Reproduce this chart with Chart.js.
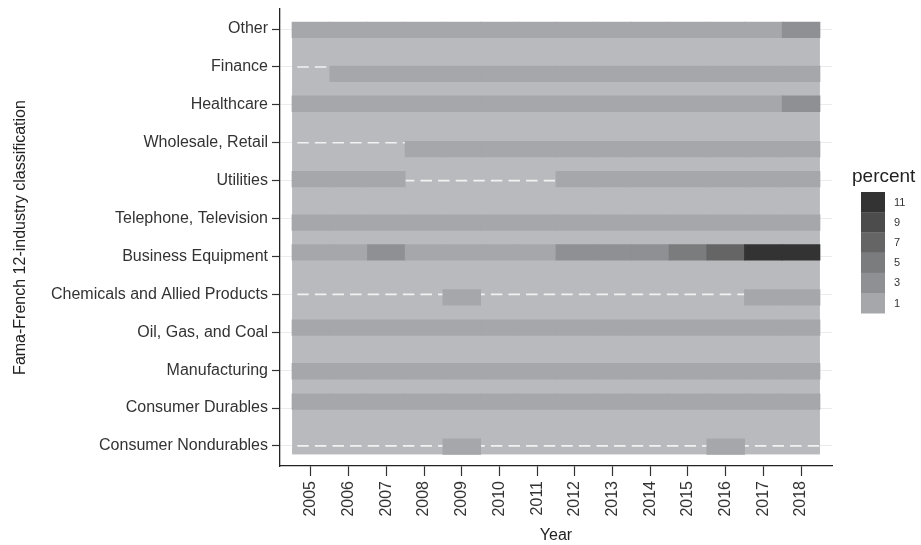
<!DOCTYPE html>
<html>
<head>
<meta charset="utf-8">
<script src="https://cdn.jsdelivr.net/npm/chart.js@4.4.1/dist/chart.umd.min.js"></script>
<style>
  html, body { margin: 0; padding: 0; background: #ffffff; }
  #wrap { width: 921px; height: 545px; }
</style>
</head>
<body>
<div id="wrap"><canvas id="chart" width="921" height="545"></canvas></div>
<script>
// Years on the horizontal axis
const years = [2005, 2006, 2007, 2008, 2009, 2010, 2011, 2012, 2013, 2014, 2015, 2016, 2017, 2018];

// Fama-French 12 industries, listed from the bottom row to the top row
const industries = [
  'Consumer Nondurables', 'Consumer Durables', 'Manufacturing', 'Oil, Gas, and Coal',
  'Chemicals and Allied Products', 'Business Equipment', 'Telephone, Television',
  'Utilities', 'Wholesale, Retail', 'Healthcare', 'Finance', 'Other'
];

// Percent per year for each industry (null = no observation that year)
const consumerNondurables = [null, null, null, null, 1, null, null, null, null, null, null, 1, null, null];
const consumerDurables    = [1, 1, 1, 1, 1, 1, 1, 1, 1, 1, 1, 1, 1, 1];
const manufacturing       = [1, 1, 1, 1, 1, 1, 1, 1, 1, 1, 1, 1, 1, 1];
const oilGasCoal          = [1, 1, 1, 1, 1, 1, 1, 1, 1, 1, 1, 1, 1, 1];
const chemicals           = [null, null, null, null, 1, null, null, null, null, null, null, null, 1, 1];
const businessEquipment   = [1, 1, 3, 1, 1, 1, 1, 3, 3, 3, 5, 7, 11, 11];
const telephoneTelevision = [1, 1, 1, 1, 1, 1, 1, 1, 1, 1, 1, 1, 1, 1];
const utilities           = [1, 1, 1, null, null, null, null, 1, 1, 1, 1, 1, 1, 1];
const wholesaleRetail     = [null, null, null, 1, 1, 1, 1, 1, 1, 1, 1, 1, 1, 1];
const healthcare          = [1, 1, 1, 1, 1, 1, 1, 1, 1, 1, 1, 1, 1, 3];
const finance             = [null, 1, 1, 1, 1, 1, 1, 1, 1, 1, 1, 1, 1, 1];
const other               = [1, 1, 1, 1, 1, 1, 1, 1, 1, 1, 1, 1, 1, 3];

// Legend keys of the percent colour scale
const legendValues = [1, 3, 5, 7, 9, 11];

const rows = [
  consumerNondurables, consumerDurables, manufacturing, oilGasCoal, chemicals,
  businessEquipment, telephoneTelevision, utilities, wholesaleRetail, healthcare,
  finance, other
];

// ---- styling ----
const FONT = "'Liberation Sans', Arial, Helvetica, sans-serif";
const TEXT = '#333333';
const PANEL = '#b9babd';
const legendColors = ['#a6a7aa', '#8f9093', '#7b7c7e', '#656566', '#4c4c4c', '#333333'];
const BAR_PX = 15.5;
// vertical nudge of each row's bar relative to its tick (row units, bottom to top)
const rowNudge = [-0.02, 0.17, -0.03, 0.12, -0.08, 0.11, -0.11, 0.04, -0.17, 0.03, -0.18, -0.02];

function hexToRgb(h) {
  const n = parseInt(h.slice(1), 16);
  return [(n >> 16) & 255, (n >> 8) & 255, n & 255];
}
function colorFor(v) {
  if (v <= legendValues[0]) return legendColors[0];
  const last = legendValues.length - 1;
  if (v >= legendValues[last]) return legendColors[last];
  for (let k = 0; k < last; k++) {
    const a = legendValues[k], b = legendValues[k + 1];
    if (v >= a && v <= b) {
      const t = (v - a) / (b - a);
      const c0 = hexToRgb(legendColors[k]), c1 = hexToRgb(legendColors[k + 1]);
      const c = c0.map((x, i) => Math.round(x + (c1[i] - x) * t));
      return `rgb(${c[0]},${c[1]},${c[2]})`;
    }
  }
  return legendColors[0];
}

const datasets = rows.map((vals, r) => ({
  label: industries[r],
  data: vals
    .map((v, i) => (v == null ? null : { x: [i - 0.5, i + 0.5], y: r + rowNudge[r], v }))
    .filter(d => d !== null),
  backgroundColor: ctx => colorFor(ctx.raw ? ctx.raw.v : 1),
  borderWidth: 0,
  barThickness: BAR_PX,
  inflateAmount: 0.4,
  grouped: false
}));

// grey panel behind the tiles plus the white dashed guide of every row
const panelPlugin = {
  id: 'panel',
  beforeDatasetsDraw(chart) {
    const { ctx, scales: { x, y } } = chart;
    const left = x.getPixelForValue(-0.5);
    const right = x.getPixelForValue(years.length - 0.5);
    let top = Infinity, bottom = -Infinity;
    rows.forEach((_, r) => {
      const c = y.getPixelForValue(r + rowNudge[r]);
      top = Math.min(top, c - BAR_PX / 2);
      bottom = Math.max(bottom, c + BAR_PX / 2);
    });
    ctx.save();
    ctx.fillStyle = PANEL;
    ctx.fillRect(left, top, right - left, bottom - top);
    ctx.strokeStyle = '#f2f2f2';
    ctx.lineWidth = 1.7;
    ctx.setLineDash([11.5, 6.1]);
    ctx.lineDashOffset = 12.4;
    rows.forEach((_, r) => {
      const yy = y.getPixelForValue(r);
      ctx.beginPath();
      ctx.moveTo(left, yy);
      ctx.lineTo(right, yy);
      ctx.stroke();
    });
    ctx.restore();
  }
};

// colour legend on the right
const legendPlugin = {
  id: 'percentLegend',
  afterDraw(chart) {
    const ctx = chart.ctx;
    ctx.save();
    ctx.fillStyle = '#222222';
    ctx.font = `19px ${FONT}`;
    ctx.textAlign = 'left';
    ctx.textBaseline = 'middle';
    ctx.fillText('percent', 852, 177);
    const kx = 861, kw = 24, kh = 20.2, ktop = 192;
    const n = legendValues.length;
    ctx.font = `11px ${FONT}`;
    for (let i = 0; i < n; i++) {
      const idx = n - 1 - i;
      const yy = ktop + i * kh;
      ctx.fillStyle = colorFor(legendValues[idx]);
      ctx.fillRect(kx, yy, kw, kh + 0.3);
      ctx.fillStyle = TEXT;
      ctx.fillText(String(legendValues[idx]), 894, yy + kh / 2 + 0.5);
    }
    ctx.restore();
  }
};

new Chart(document.getElementById('chart'), {
  type: 'bar',
  data: { datasets },
  plugins: [panelPlugin, legendPlugin],
  options: {
    indexAxis: 'y',
    responsive: false,
    devicePixelRatio: 1,
    animation: false,
    layout: { padding: { top: 9, right: 89, bottom: 0, left: 0 } },
    plugins: { legend: { display: false }, tooltip: { enabled: false } },
    scales: {
      x: {
        type: 'linear',
        position: 'bottom',
        offset: false,
        min: -0.82,
        max: years.length - 1 + 0.82,
        afterBuildTicks: s => { s.ticks = years.map((_, i) => ({ value: i })); },
        afterFit: s => { s.height = 79; s.paddingLeft = 0; s.paddingRight = 0; },
        ticks: {
          autoSkip: false, minRotation: 90, maxRotation: 90, padding: 5,
          color: TEXT, font: { family: FONT, size: 16 },
          callback: v => years[v]
        },
        grid: { offset: false, drawOnChartArea: false, tickLength: 10, tickColor: '#333333', tickWidth: 1.2 },
        border: { color: '#222222', width: 1.3 },
        title: { display: true, text: 'Year', color: '#222222', padding: { top: 0, bottom: 1 },
                 font: { family: FONT, size: 16, lineHeight: 1 } }
      },
      y: {
        type: 'linear',
        offset: false,
        min: -0.53,
        max: industries.length - 1 + 0.53,
        afterBuildTicks: s => { s.ticks = industries.map((_, i) => ({ value: i })); },
        afterFit: s => { s.width = 280; s.paddingTop = 0; s.paddingBottom = 0; },
        ticks: {
          autoSkip: false, padding: 4, color: TEXT,
          font: { family: FONT, size: 16 },
          callback: v => industries[v]
        },
        grid: { offset: false, color: '#ebebeb', lineWidth: 1, tickLength: 8, tickColor: '#333333', tickWidth: 1.2 },
        border: { color: '#222222', width: 1.3 },
        title: { display: true, text: 'Fama-French 12-industry classification', color: '#222222',
                 padding: { top: 13, bottom: 0 }, font: { family: FONT, size: 16, lineHeight: 1 } }
      }
    }
  }
});
</script>
</body>
</html>
